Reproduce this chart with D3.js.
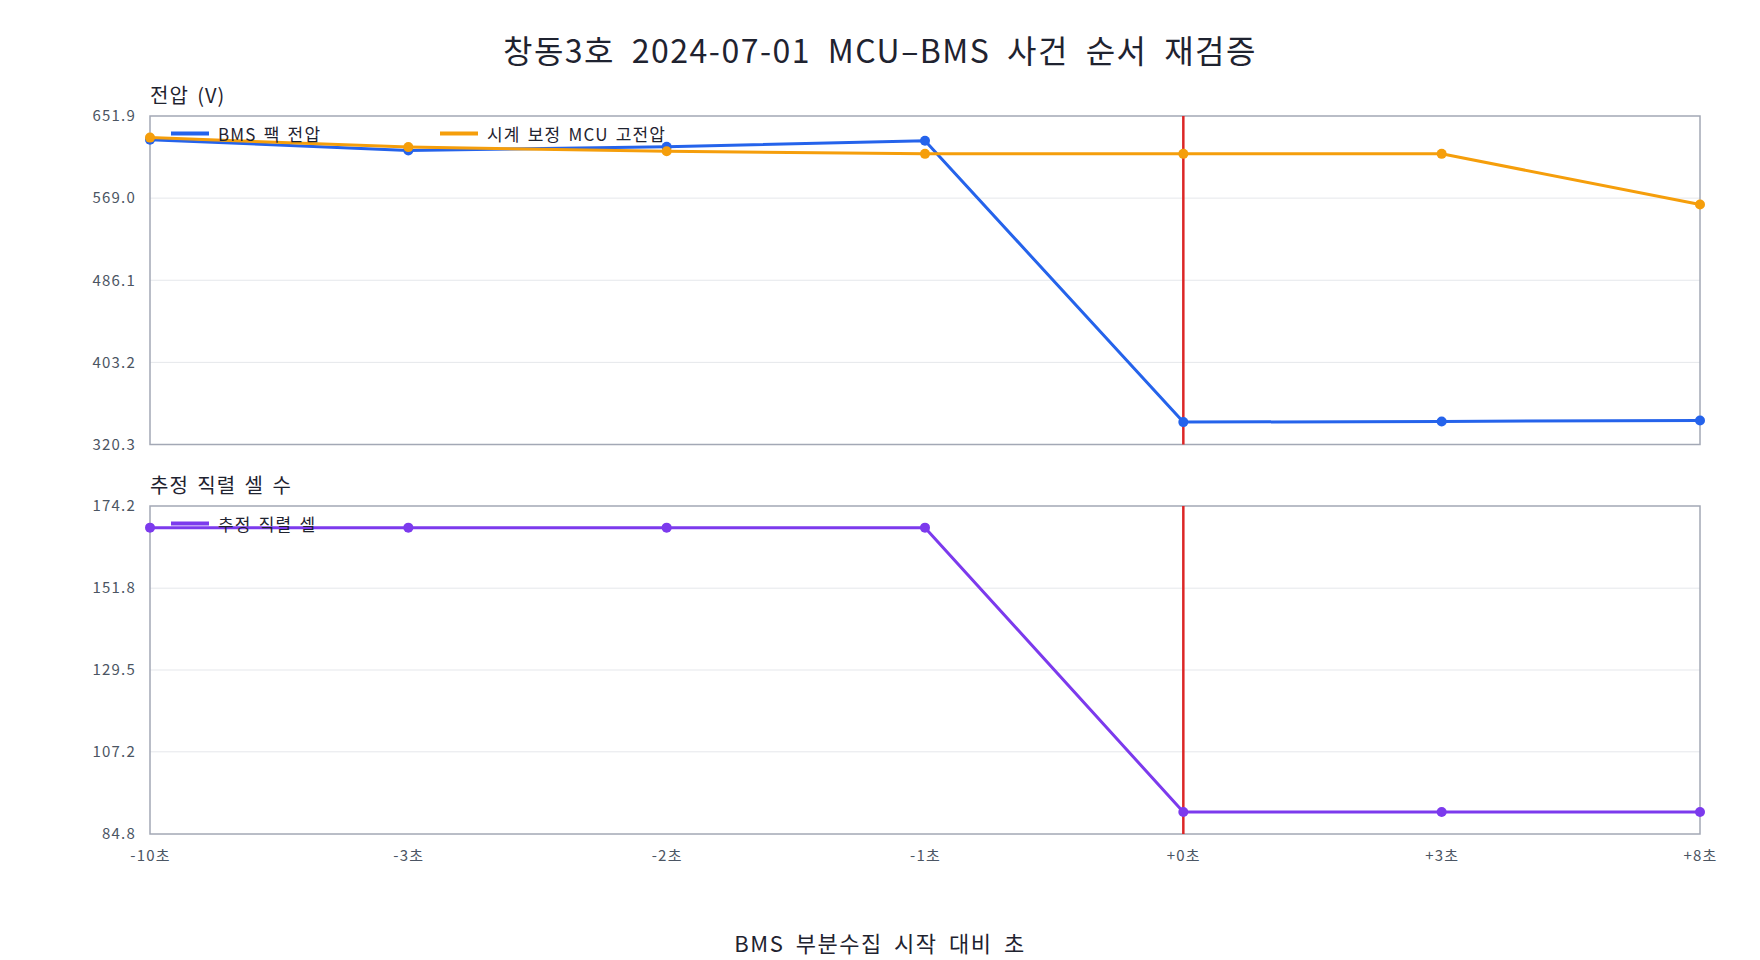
<!DOCTYPE html>
<html>
<head>
<meta charset="utf-8">
<script src="https://cdn.jsdelivr.net/npm/d3@7"></script>
<style>
  body { margin: 0; background: #fff; }
  svg { font-family: "Noto Sans CJK KR", "Noto Sans", sans-serif; }
</style>
</head>
<body>
<svg id="chart" width="1760" height="960"></svg>
<script>
// data
const labels = ["-10초", "-3초", "-2초", "-1초", "+0초", "+3초", "+8초"];
const bmsVoltage = [628.0, 617.2, 620.8, 627.0, 342.9, 343.6, 344.6];
const mcuVoltage = [630.1, 620.5, 616.4, 613.7, 613.7, 613.7, 562.5];
const seriesCells = [168.3, 168.3, 168.3, 168.3, 90.8, 90.8, 90.8];
const voltTicks = [320.3, 403.2, 486.1, 569.0, 651.9];
const cellTicks = [84.8, 107.2, 129.5, 151.8, 174.2];
const eventLabel = "+0초";

const svg = d3.select("#chart");
const left = 150, right = 1700;
const fontStack = "\"Noto Sans CJK KR\", sans-serif";

const x = d3.scalePoint().domain(labels).range([left, right]).padding(0);

const panels = [
  {
    title: "전압 (V)", top: 116, bottom: 444.5, ticks: voltTicks,
    series: [
      {name: "BMS 팩 전압", values: bmsVoltage, color: "#2563eb"},
      {name: "시계 보정 MCU 고전압", values: mcuVoltage, color: "#f59e0b"}
    ]
  },
  {
    title: "추정 직렬 셀 수", top: 506, bottom: 834, ticks: cellTicks,
    series: [
      {name: "추정 직렬 셀", values: seriesCells, color: "#7c3aed"}
    ]
  }
];

// title
svg.append("text")
  .attr("x", 880).attr("y", 49)
  .attr("text-anchor", "middle").attr("dominant-baseline", "central")
  .attr("font-size", 32).attr("fill", "#1f2330")
  .attr("letter-spacing", 1.5).attr("word-spacing", 8)
  .text("창동3호 2024-07-01 MCU–BMS 사건 순서 재검증");

panels.forEach((p) => {
  const y = d3.scaleLinear()
    .domain([p.ticks[0], p.ticks[p.ticks.length - 1]])
    .range([p.bottom, p.top]);
  const g = svg.append("g");

  // grid
  g.selectAll(".grid").data(p.ticks.slice(1, -1)).enter().append("line")
    .attr("x1", left).attr("x2", right)
    .attr("y1", (d) => y(d)).attr("y2", (d) => y(d))
    .attr("stroke", "#e5e7eb").attr("stroke-width", 1);

  // y axis labels
  const yAxis = d3.axisLeft(y).tickValues(p.ticks).tickSize(0).tickPadding(14)
    .tickFormat(d3.format(".1f"));
  const ag = g.append("g").attr("transform", "translate(" + left + ",0)").call(yAxis);
  ag.select(".domain").remove();
  ag.selectAll("text").attr("font-size", 15).attr("fill", "#4b5563")
    .attr("letter-spacing", 1.2).attr("font-family", fontStack);

  // frame
  g.append("rect")
    .attr("x", left).attr("y", p.top)
    .attr("width", right - left).attr("height", p.bottom - p.top)
    .attr("fill", "none").attr("stroke", "#a3a8b5").attr("stroke-width", 1.5);

  // panel title
  g.append("text")
    .attr("x", left).attr("y", p.top - 22)
    .attr("dominant-baseline", "central")
    .attr("font-size", 20).attr("fill", "#1f2330")
    .attr("letter-spacing", 1).attr("word-spacing", 3)
    .text(p.title);

  // event marker
  g.append("line")
    .attr("x1", x(eventLabel)).attr("x2", x(eventLabel))
    .attr("y1", p.top).attr("y2", p.bottom)
    .attr("stroke", "#dc2626").attr("stroke-width", 2.5);

  // series
  const line = d3.line()
    .x((d, i) => x(labels[i]))
    .y((d) => y(d));

  p.series.forEach((s) => {
    g.append("path")
      .datum(s.values)
      .attr("d", line)
      .attr("fill", "none")
      .attr("stroke", s.color).attr("stroke-width", 3);
    g.selectAll(null).data(s.values).enter().append("circle")
      .attr("cx", (d, i) => x(labels[i]))
      .attr("cy", (d) => y(d))
      .attr("r", 5)
      .attr("fill", s.color);
  });

  // legend
  const legendX = [171, 440];
  p.series.forEach((s, i) => {
    const lg = g.append("g").attr("transform", "translate(" + legendX[i] + "," + (p.top + 17.5) + ")");
    lg.append("line").attr("x1", 0).attr("x2", 38)
      .attr("stroke", s.color).attr("stroke-width", 4);
    lg.append("text").attr("x", 47).attr("y", 0)
      .attr("dominant-baseline", "central")
      .attr("font-size", 17).attr("fill", "#1f2330")
      .attr("letter-spacing", 1.2).attr("word-spacing", 2)
      .text(s.name);
  });
});

// x axis labels under the lower panel
const xAxis = d3.axisBottom(x).tickSize(0).tickPadding(16);
const xg = svg.append("g").attr("transform", "translate(0," + panels[1].bottom + ")").call(xAxis);
xg.select(".domain").remove();
xg.selectAll("text").attr("font-size", 15).attr("fill", "#4b5563")
  .attr("letter-spacing", 1.2).attr("font-family", fontStack);

svg.append("text")
  .attr("x", 880).attr("y", 942)
  .attr("text-anchor", "middle").attr("dominant-baseline", "central")
  .attr("font-size", 22).attr("fill", "#1f2330")
  .attr("letter-spacing", 1.5).attr("word-spacing", 5)
  .text("BMS 부분수집 시작 대비 초");
</script>
</body>
</html>
